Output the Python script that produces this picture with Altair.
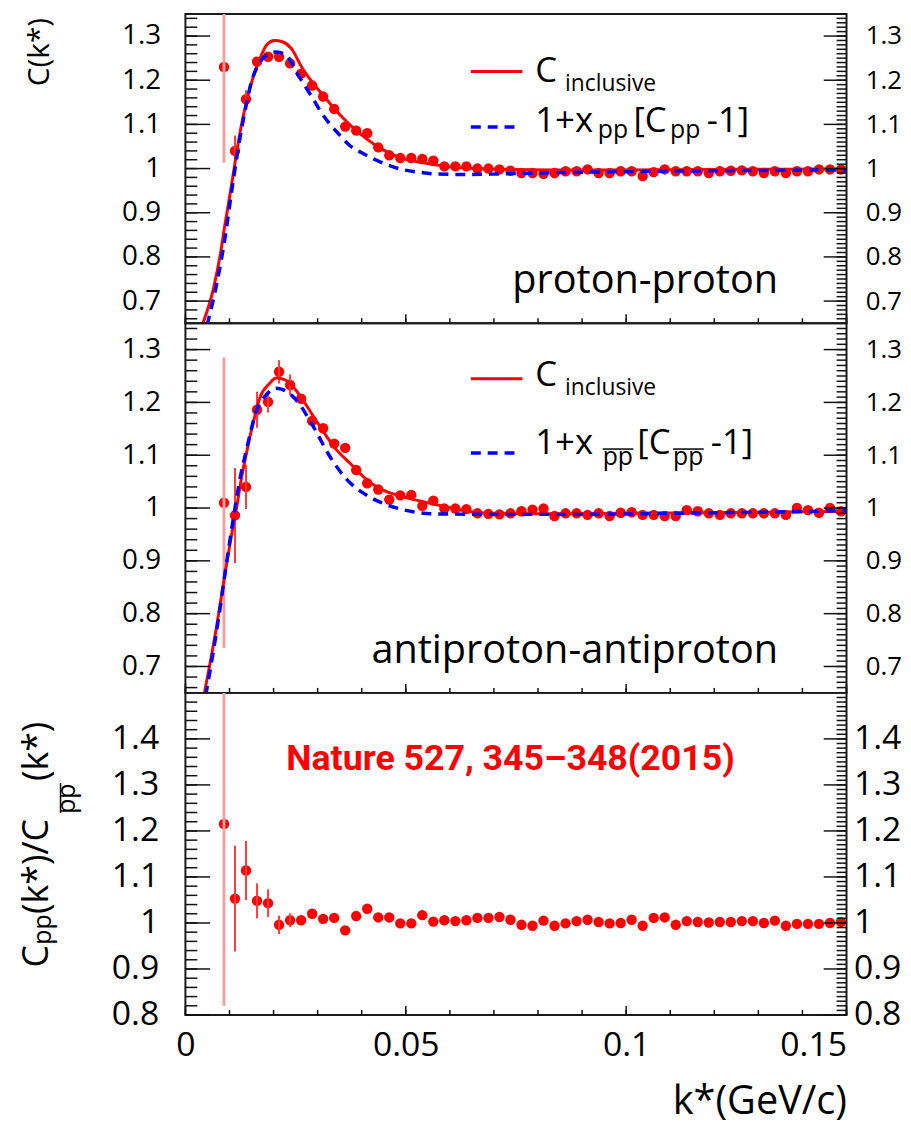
import altair as alt
import pandas as pd

# ---------------- data ----------------
K = [0.00875, 0.01125, 0.01375, 0.01625, 0.01875, 0.02125, 0.02375, 0.02625, 0.02875, 0.03125,
     0.03375, 0.03625, 0.03875, 0.04125, 0.04375, 0.04625, 0.04875, 0.05125, 0.05375, 0.05625,
     0.05875, 0.06125, 0.06375, 0.06625, 0.06875, 0.07125, 0.07375, 0.07625, 0.07875, 0.08125,
     0.08375, 0.08625, 0.08875, 0.09125, 0.09375, 0.09625, 0.09875, 0.10125, 0.10375, 0.10625,
     0.10875, 0.11125, 0.11375, 0.11625, 0.11875, 0.12125, 0.12375, 0.12625, 0.12875, 0.13125,
     0.13375, 0.13625, 0.13875, 0.14125, 0.14375, 0.14625, 0.14875]

C_PP = [1.230, 1.040, 1.157, 1.242, 1.253, 1.253, 1.238, 1.215, 1.188, 1.163,
        1.135, 1.095, 1.086, 1.080, 1.048, 1.030, 1.024, 1.024, 1.022, 1.018,
        1.005, 1.005, 1.005, 1.000, 1.000, 0.998, 0.995, 0.990, 0.990, 0.988,
        0.990, 0.994, 0.994, 0.998, 0.990, 0.990, 0.994, 0.994, 0.983, 0.992,
        0.998, 0.994, 0.994, 0.994, 0.990, 0.994, 0.995, 0.996, 0.994, 0.990,
        0.994, 0.990, 0.994, 0.994, 0.998, 0.998, 0.998]

C_APAP = [1.010, 0.986, 1.040, 1.186, 1.201, 1.258, 1.233, 1.207, 1.165, 1.151,
          1.122, 1.114, 1.072, 1.047, 1.035, 1.016, 1.024, 1.025, 1.004, 1.014,
          0.999, 0.999, 0.998, 0.990, 0.989, 0.988, 0.990, 0.994, 0.997, 0.999,
          0.985, 0.990, 0.990, 0.987, 0.990, 0.985, 0.991, 0.992, 0.987, 0.987,
          0.985, 0.985, 0.996, 0.994, 0.990, 0.987, 0.990, 0.990, 0.990, 0.990,
          0.990, 0.987, 1.000, 0.996, 0.991, 1.000, 0.994]

RATIO = [1.215, 1.053, 1.114, 1.048, 1.043, 0.996, 1.006, 1.006, 1.020, 1.009,
         1.011, 0.984, 1.015, 1.031, 1.012, 1.012, 0.999, 0.999, 1.017, 1.003,
         1.006, 1.004, 1.006, 1.011, 1.011, 1.013, 1.007, 0.996, 0.994, 1.005,
         0.994, 0.999, 1.004, 1.007, 1.002, 0.999, 1.000, 1.007, 0.994, 1.011,
         1.012, 0.996, 1.004, 1.002, 1.001, 1.002, 1.002, 1.004, 1.004, 1.000,
         1.005, 0.994, 0.998, 0.998, 0.998, 1.000, 1.002]

ERR_PP = [0.217, 0.035, 0.02]
ERR_APAP = [0.275, 0.09, 0.042, 0.034, 0.02, 0.022, 0.02]
ERR_RATIO = [0.395, 0.115, 0.064, 0.038, 0.03, 0.02, 0.015]

PP_INCL_K = [0.0038, 0.0064, 0.0079, 0.009, 0.0105, 0.0116, 0.0127, 0.014, 0.0154,
             0.0169, 0.0185, 0.0202, 0.022, 0.024, 0.0266, 0.029, 0.0315, 0.034, 0.0365,
             0.039, 0.0414, 0.0439, 0.0465, 0.049, 0.054, 0.059, 0.066, 0.074, 0.085,
             0.10, 0.12, 0.15]
PP_INCL_C = [0.645, 0.730, 0.805, 0.875, 0.965, 1.035, 1.098, 1.157, 1.208,
             1.249, 1.281, 1.290, 1.287, 1.272, 1.226, 1.193, 1.163, 1.133, 1.107,
             1.084, 1.065, 1.048, 1.034, 1.024, 1.013, 1.005, 1.000, 0.998, 0.997,
             0.997, 0.998, 0.999]

PP_X_K = [0.0049, 0.0071, 0.009, 0.0105, 0.012, 0.0135, 0.015, 0.0165, 0.0184,
          0.0206, 0.0229, 0.0251, 0.027, 0.0289, 0.0307, 0.0326, 0.0349, 0.0371, 0.0401,
          0.0431, 0.0461, 0.0491, 0.0528, 0.0566, 0.0641, 0.0716, 0.085, 0.10, 0.12, 0.15]
PP_X_C = [0.645, 0.739, 0.844, 0.949, 1.047, 1.129, 1.197, 1.234, 1.257,
          1.264, 1.257, 1.219, 1.189, 1.159, 1.129, 1.103, 1.077, 1.054, 1.035,
          1.020, 1.0075, 0.998, 0.992, 0.988, 0.9865, 0.988, 0.991, 0.993, 0.995, 0.997]

AP_INCL_K = [0.0042, 0.0071, 0.009, 0.0105, 0.0116, 0.0127, 0.0139, 0.0154, 0.0169,
             0.0191, 0.0206, 0.0225, 0.0244, 0.0266, 0.0304, 0.0341, 0.0378, 0.0416, 0.0454,
             0.0491, 0.0566, 0.0641, 0.0716, 0.085, 0.10, 0.12, 0.14, 0.15]
AP_INCL_C = [0.645, 0.777, 0.877, 0.951, 1.000, 1.056, 1.106, 1.162, 1.209,
             1.236, 1.246, 1.243, 1.230, 1.205, 1.156, 1.112, 1.081, 1.050, 1.032,
             1.022, 1.007, 0.994, 0.989, 0.989, 0.990, 0.991, 0.993, 0.994]

AP_X_K = [0.0046, 0.0075, 0.009, 0.0109, 0.0124, 0.0139, 0.0161, 0.0184, 0.0206,
          0.0229, 0.0251, 0.0289, 0.0326, 0.0364, 0.0416, 0.0454, 0.0491, 0.0566, 0.0716,
          0.09, 0.11, 0.13, 0.15]
AP_X_C = [0.645, 0.790, 0.877, 0.982, 1.056, 1.112, 1.184, 1.215, 1.227,
          1.221, 1.205, 1.156, 1.100, 1.056, 1.022, 1.007, 0.9975, 0.989, 0.988,
          0.988, 0.990, 0.992, 0.995]

Y_TICKS_TOP = [0.7, 0.8, 0.9, 1.0, 1.1, 1.2, 1.3]
Y_TICKS_BOT = [0.8, 0.9, 1.0, 1.1, 1.2, 1.3, 1.4]
X_TICKS = [0, 0.05, 0.1, 0.15]

# ---------------- style ----------------
FONT = "Open Sans"
RED = "#ff0000"
PINK = "#f5a0a0"
BLUE = "#0000ff"
W = 667
XDOM = [0, 0.15]

x_minor = [round(0.01 * i, 2) for i in range(16)]


def text(s, x, y, size, align="left", angle=0, color="black", font=FONT, weight="normal"):
    return alt.Chart(pd.DataFrame({"t": [s]})).mark_text(
        align=align, baseline="alphabetic", fontSize=size, font=font,
        color=color, angle=angle, fontWeight=weight
    ).encode(text="t:N", x=alt.value(x), y=alt.value(y))


def seg(x0, x1, y0, y1, color, width, dash=None):
    kw = dict(color=color, strokeWidth=width)
    if dash:
        kw["strokeDash"] = dash
    return alt.Chart(pd.DataFrame({"a": [0]})).mark_rule(**kw).encode(
        x=alt.value(x0), x2=alt.value(x1), y=alt.value(y0), y2=alt.value(y1))


def panel(H, ydom, y_major, y_min_left, y_min_right, c_vals, errs, curves,
          lsize, rsize, lpad, rpad, xax, extras):
    xs = alt.Scale(domain=XDOM, nice=False, zero=False)
    ys = alt.Scale(domain=ydom, nice=False, zero=False)

    def X(f):
        return alt.X(f, scale=xs, axis=xax)

    pts = alt.Chart(pd.DataFrame({"k": K, "c": c_vals})).mark_circle(
        size=110, color=RED, opacity=1, clip=True
    ).encode(
        x=X("k:Q"),
        y=alt.Y("c:Q", scale=ys, axis=alt.Axis(
            orient="left", values=y_major, format=".2~g", labelFontSize=lsize,
            labelPadding=lpad, ticks=False, tickSize=0, domain=False, grid=False,
            title=None, labelFont=FONT, labelColor="black")),
    )

    n = len(errs)
    ed = pd.DataFrame({
        "k": K[:n],
        "lo": [c - e for c, e in zip(c_vals[:n], errs)],
        "hi": [min(c + e, ydom[1]) for c, e in zip(c_vals[:n], errs)],
    })
    e_first = alt.Chart(ed.iloc[:1]).mark_rule(color=PINK, strokeWidth=3, clip=True).encode(
        x=X("k:Q"), y=alt.Y("lo:Q", scale=ys, axis=None), y2="hi:Q")
    e_rest = alt.Chart(ed.iloc[1:]).mark_rule(color="#ff3b3b", strokeWidth=2, clip=True).encode(
        x=X("k:Q"), y=alt.Y("lo:Q", scale=ys, axis=None), y2="hi:Q")

    curve_layers = []
    if curves:
        (ik, ic), (ek, ec) = curves
        curve_layers.append(alt.Chart(pd.DataFrame({"k": ik, "c": ic})).mark_line(
            color=RED, strokeWidth=3, interpolate="monotone", clip=True
        ).encode(x=X("k:Q"), y=alt.Y("c:Q", scale=ys, axis=None)))
        curve_layers.append(alt.Chart(pd.DataFrame({"k": ek, "c": ec})).mark_line(
            color=BLUE, strokeWidth=3.5, strokeDash=[10, 7], interpolate="monotone", clip=True
        ).encode(x=X("k:Q"), y=alt.Y("c:Q", scale=ys, axis=None)))

    def yt(vals, x0, x1, axis=None):
        return alt.Chart(pd.DataFrame({"v": vals})).mark_rule(color="#111", strokeWidth=1.5).encode(
            y=alt.Y("v:Q", scale=ys, axis=axis), x=alt.value(x0), x2=alt.value(x1))

    def xt(vals, length):
        return alt.Chart(pd.DataFrame({"v": vals})).mark_rule(color="#111", strokeWidth=1.5).encode(
            x=X("v:Q"), y=alt.value(H), y2=alt.value(H - length))

    right_axis = alt.Axis(orient="right", values=y_major, format=".2~g", labelFontSize=rsize,
                          labelPadding=rpad, ticks=False, tickSize=0, domain=False, grid=False,
                          title=None, labelFont=FONT, labelColor="black")

    layers = [pts, e_first, e_rest] + curve_layers + [
        yt(y_major, 0, 25), yt(y_min_left, 0, 12),
        yt(y_major, W - 23, W, right_axis), yt(y_min_right, W - 10, W),
        xt(X_TICKS, 9), xt(x_minor, 5),
    ] + extras
    return alt.layer(*layers).resolve_axis(y="independent").properties(width=W, height=H)


# ---------------- panels ----------------
H1, H2, H3 = 312, 373, 325
top_left_minor = [round(0.66 + 0.02 * i, 2) for i in range(35)]
top_right_minor = [round(0.66 + 0.01 * i, 2) for i in range(69)]
bot_left_minor = [round(0.80 + 0.02 * i, 2) for i in range(35)]
bot_right_minor = [round(0.80 + 0.01 * i, 2) for i in range(70)]

legend1 = [
    seg(288, 340, 58, 58, RED, 3),
    text("C", 353, 69, 35),
    text("inclusive", 383, 78, 23),
    seg(288, 337, 114, 114, BLUE, 3.5, [10, 7]),
    text("1+x", 353, 119, 35),
    text("pp", 416, 125, 25),
    text("[C", 452, 119, 35),
    text("pp", 489, 125, 25),
    text("-1]", 526, 119, 35),
    text("proton-proton", 598, 282, 40, align="right"),
    text("C(k*)", -138, 4, 30, align="right", angle=270),
]

p1 = panel(H1, [0.65, 1.35], Y_TICKS_TOP, top_left_minor, top_right_minor, C_PP, ERR_PP,
           ((PP_INCL_K, PP_INCL_C), (PP_X_K, PP_X_C)), 28, 26, 25, 19, None, legend1)

legend2 = [
    seg(288, 340, 56, 56, RED, 3),
    text("C", 353, 63, 35),
    text("inclusive", 383, 72, 23),
    seg(288, 337, 131, 131, BLUE, 3.5, [10, 7]),
    text("1+x", 353, 132, 35),
    text("pp", 421, 143, 25),
    seg(421, 452, 127, 127, "black", 1.5),
    text("[C", 456, 132, 35),
    text("pp", 492, 143, 25),
    seg(492, 523, 127, 127, "black", 1.5),
    text("-1]", 530, 132, 35),
    text("antiproton-antiproton", 598, 343, 40, align="right"),
]

p2 = panel(H2, [0.65, 1.35], Y_TICKS_TOP, top_left_minor, top_right_minor, C_APAP, ERR_APAP,
           ((AP_INCL_K, AP_INCL_C), (AP_X_K, AP_X_C)), 28, 26, 25, 19, None, legend2)

x_axis3 = alt.Axis(
    values=X_TICKS, format=".2~g", labelFontSize=34, labelFont=FONT, labelColor="black",
    labelPadding=14, ticks=False, tickSize=0, domain=False, grid=False, labelFlush=False,
    labelAlign={"condition": {"test": "datum.value > 0.14", "value": "right"}, "value": "center"},
    title="k*(GeV/c)", titleFont=FONT, titleFontSize=40, titleFontWeight="normal",
    titleAnchor="end", titlePadding=19, titleColor="black",
)

legend3 = [
    text("Nature 527, 345\u2013348(2015)", 328, 78, 36, align="center", color=RED,
         font="Roboto", weight="bold"),
    text("C", -139, 277, 36, angle=270),
    text("pp", -136, 254, 25, angle=270),
    text("(k*)/C", -139, 223, 36, angle=270),
    text("pp", -111, 122, 25, angle=270),
    seg(-126, -126, 91, 121, "black", 1.5),
    text("(k*)", -139, 89, 36, angle=270),
]

p3 = panel(H3, [0.8, 1.5], Y_TICKS_BOT, bot_left_minor, bot_right_minor, RATIO, ERR_RATIO,
           None, 34, 34, 27, 7, x_axis3, legend3)

chart = alt.vconcat(p1, p2, p3, spacing=0, bounds="flush").properties(
    padding={"left": 10, "top": 0, "right": 0, "bottom": 0}
).configure_view(stroke="#1a1a1a", strokeWidth=2)

chart.save("out.html", embed_options={"renderer": "svg", "actions": False})
